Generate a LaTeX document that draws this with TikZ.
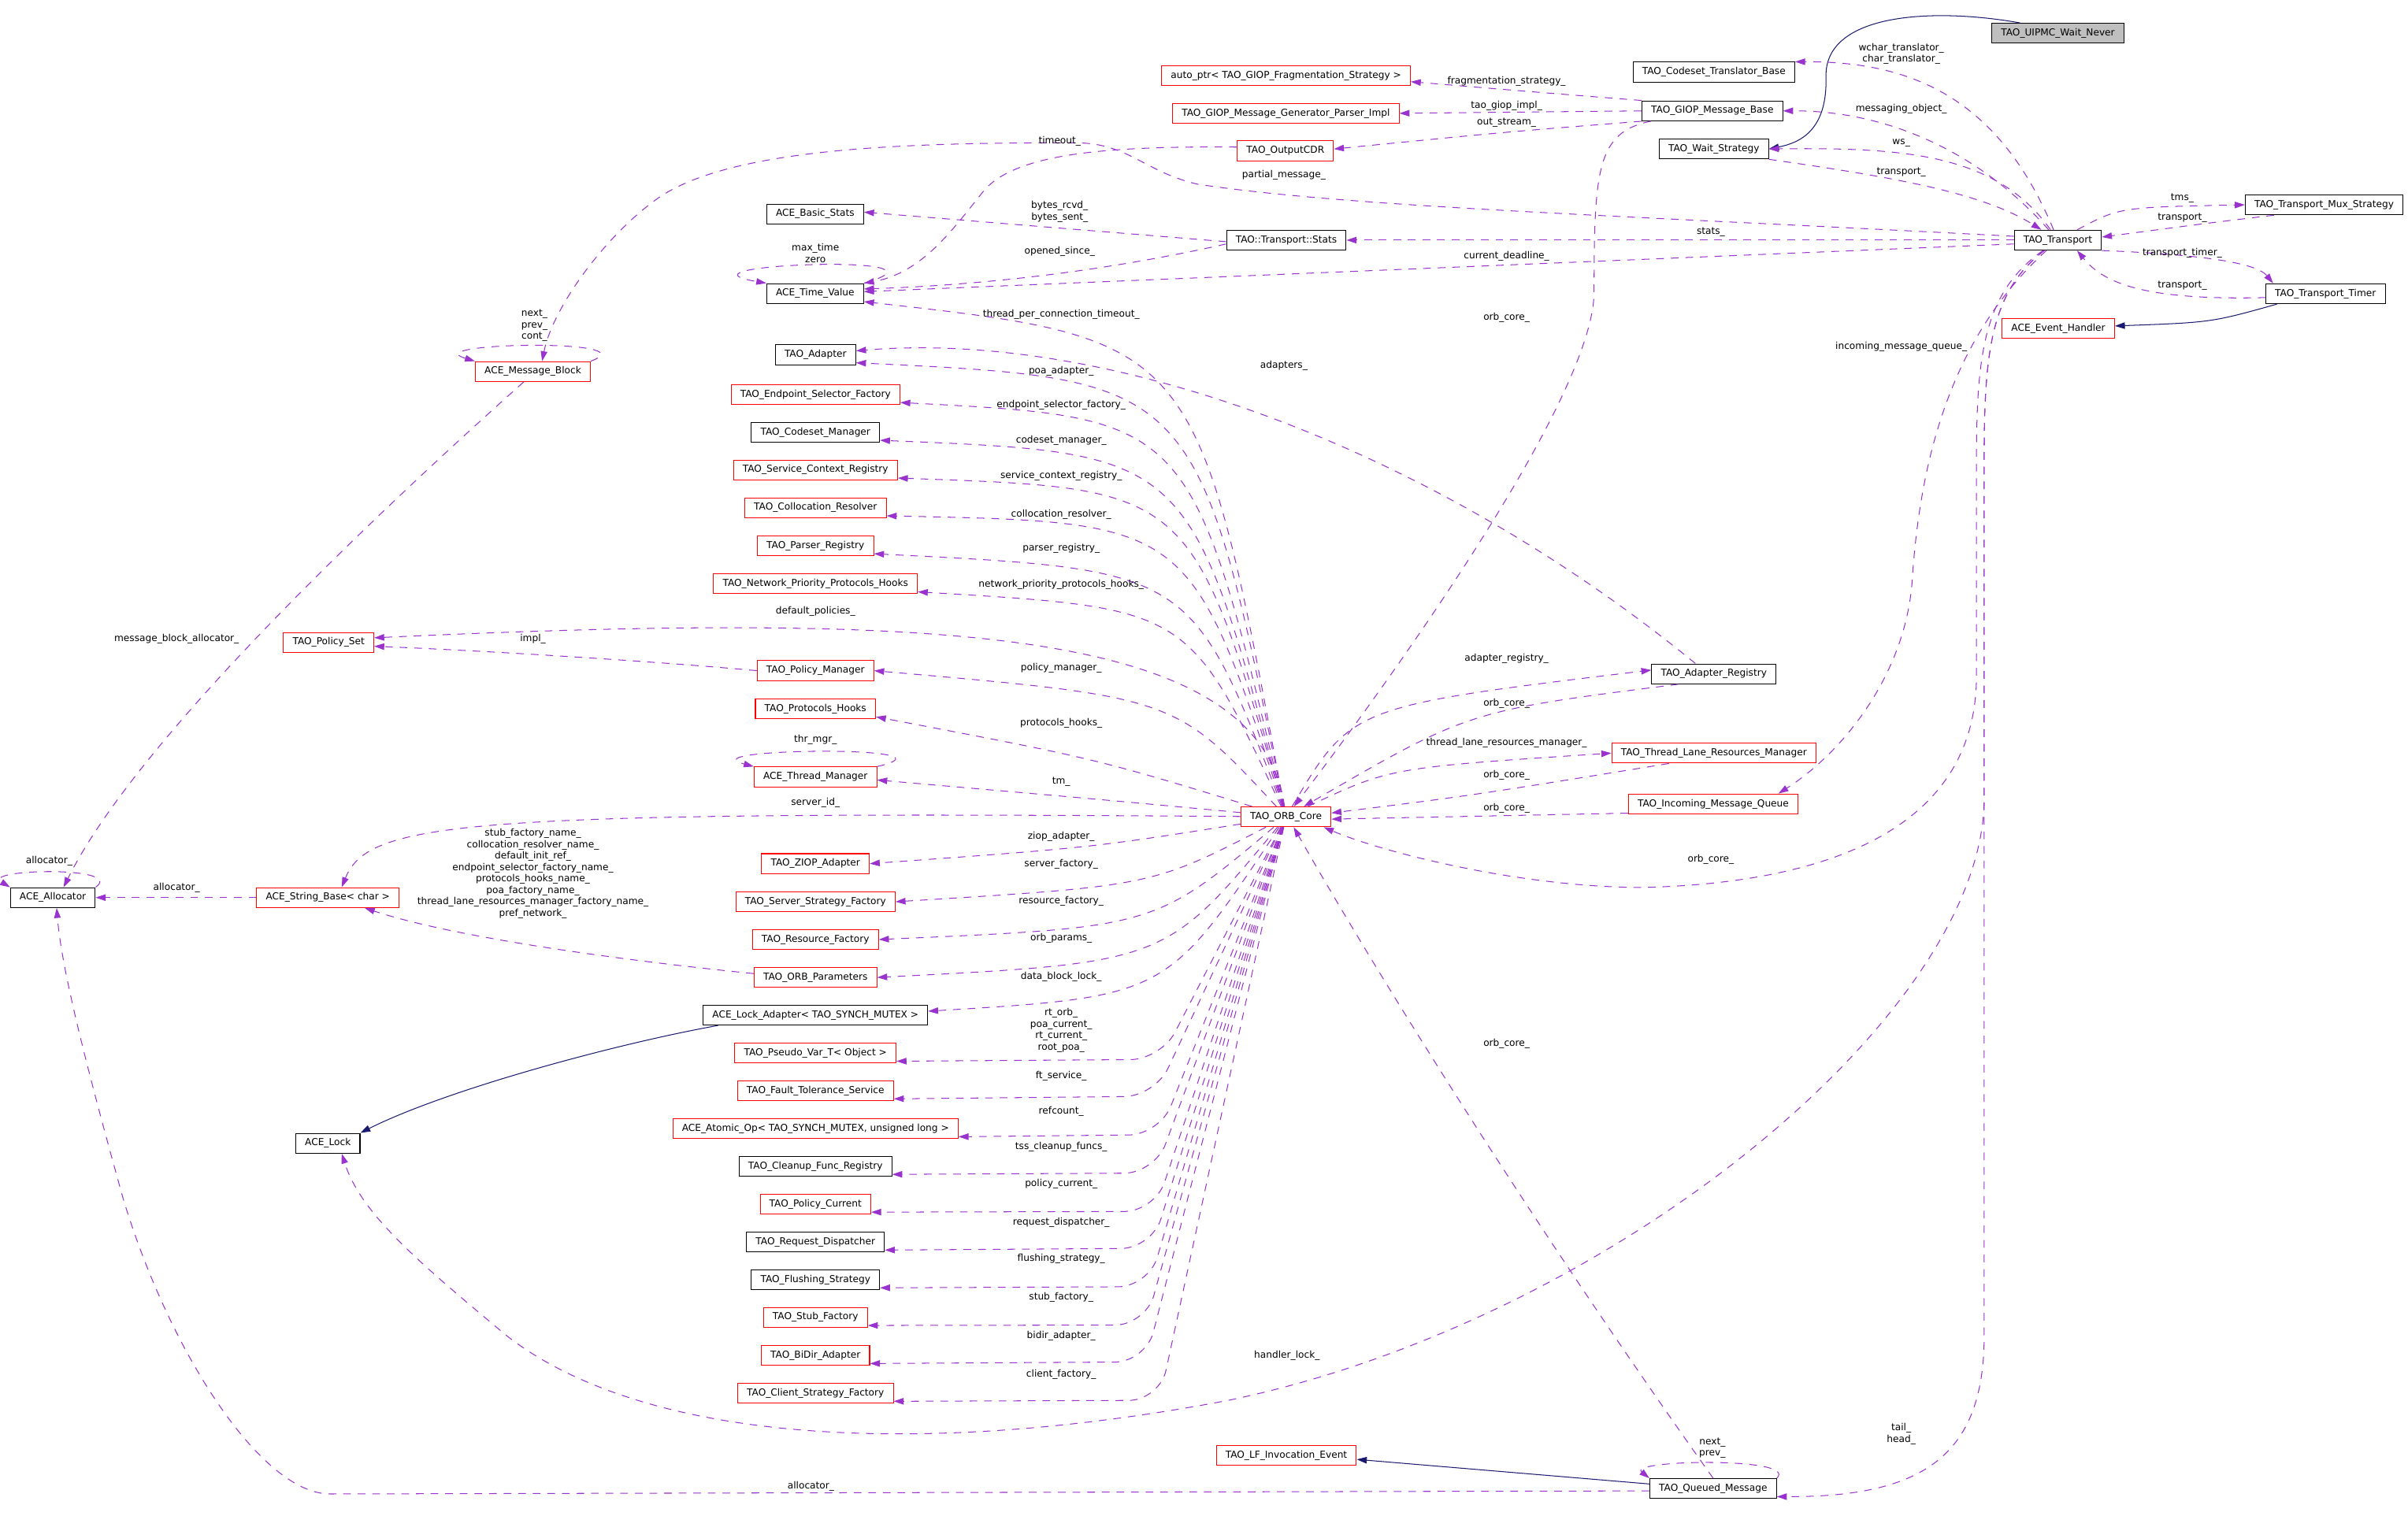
\documentclass[tikz,border=0pt]{standalone}
\usepackage{fontspec}
\setmainfont{DejaVu Sans}
\usetikzlibrary{arrows.meta}
\definecolor{memberpurple}{RGB}{154, 50, 205}
\definecolor{inheritblue}{RGB}{25, 25, 112}
\definecolor{partred}{RGB}{255, 0, 0}
\definecolor{rootgray}{RGB}{191, 191, 191}

\begin{document}
\begin{tikzpicture}[
    x=0.04cm, y=-0.04cm,
    cls/.style={draw=black, fill=white, line width=0.6pt, font=\fontsize{7.1}{8.5}\selectfont, inner xsep=0.24cm, inner ysep=0pt, minimum height=0.52cm},
    clsred/.style={cls, draw=partred},
    lbl/.style={text=black, font=\fontsize{7.1}{8.5}\selectfont, align=center, inner sep=0pt},
    member/.style={-{Triangle[length=0.26cm, width=0.17cm]}, memberpurple, line width=0.6pt, dash pattern=on 0.2cm off 0.18cm},
    inherit/.style={-{Triangle[length=0.26cm, width=0.17cm]}, inheritblue, line width=0.6pt}
]
\path[use as bounding box, fill=white] (0,0) rectangle (1568,987);

% Transport side
\node (uipmc) [cls, fill=rootgray] at (1340,21.7) {TAO\_UIPMC\_Wait\_Never};
\node (ctb) [cls] at (1116,47) {TAO\_Codeset\_Translator\_Base};
\node (frag) [clsred] at (837.4,49.2) {auto\_ptr< TAO\_GIOP\_Fragmentation\_Strategy >};
\node (gpi) [clsred] at (837.3,73.8) {TAO\_GIOP\_Message\_Generator\_Parser\_Impl};
\node (gmb) [cls] at (1115,72.2) {TAO\_GIOP\_Message\_Base};
\node (ocdr) [clsred] at (837,98.3) {TAO\_OutputCDR};
\node (wait) [cls] at (1116,97) {TAO\_Wait\_Strategy};
\node (mux) [cls] at (1513.4,133.4) {TAO\_Transport\_Mux\_Strategy};
\node (transport) [cls] at (1340,156.4) {TAO\_Transport};
\node (tstats) [cls] at (837.6,156.4) {TAO::Transport::Stats};
\node (bstats) [cls] at (530.8,139.4) {ACE\_Basic\_Stats};
\node (timeval) [cls] at (530.8,191.2) {ACE\_Time\_Value};
\node (timer) [cls] at (1514.3,191.3) {TAO\_Transport\_Timer};
\node (evh) [clsred] at (1340.3,213.8) {ACE\_Event\_Handler};
\node (mblock) [clsred] at (347,242) {ACE\_Message\_Block};

% ORB core members, upper column
\node (adapter) [cls] at (531,231) {TAO\_Adapter};
\node (esf) [clsred] at (531,256.9) {TAO\_Endpoint\_Selector\_Factory};
\node (csm) [cls] at (531,281.5) {TAO\_Codeset\_Manager};
\node (scr) [clsred] at (531,306.1) {TAO\_Service\_Context\_Registry};
\node (colres) [clsred] at (531,330.7) {TAO\_Collocation\_Resolver};
\node (parser) [clsred] at (531,355.4) {TAO\_Parser\_Registry};
\node (npph) [clsred] at (531,380.2) {TAO\_Network\_Priority\_Protocols\_Hooks};
\node (polset) [clsred] at (214,418.4) {TAO\_Policy\_Set};
\node (polmgr) [clsred] at (531,436.8) {TAO\_Policy\_Manager};
\node (phooks) [clsred] at (531,461.6) {TAO\_Protocols\_Hooks};
\node (thrmgr) [clsred] at (531,506) {ACE\_Thread\_Manager};

% ORB core and its neighbours
\node (core) [clsred] at (837.4,532) {TAO\_ORB\_Core};
\node (areg) [cls] at (1116,438.9) {TAO\_Adapter\_Registry};
\node (tlrm) [clsred] at (1116,490.5) {TAO\_Thread\_Lane\_Resources\_Manager};
\node (imq) [clsred] at (1115.6,523.6) {TAO\_Incoming\_Message\_Queue};
\node (alloc) [cls] at (34.4,584.6) {ACE\_Allocator};
\node (strbase) [clsred] at (213.5,584.6) {ACE\_String\_Base< char >};
\node (lock) [cls] at (213.5,744.6) {ACE\_Lock};

% ORB core members, lower column
\node (ziop) [clsred] at (531,562.5) {TAO\_ZIOP\_Adapter};
\node (ssf) [clsred] at (531,587.3) {TAO\_Server\_Strategy\_Factory};
\node (resf) [clsred] at (531,611.9) {TAO\_Resource\_Factory};
\node (params) [clsred] at (531,636.6) {TAO\_ORB\_Parameters};
\node (lockad) [cls] at (531,661.1) {ACE\_Lock\_Adapter< TAO\_SYNCH\_MUTEX >};
\node (pvar) [clsred] at (531,685.9) {TAO\_Pseudo\_Var\_T< Object >};
\node (fts) [clsred] at (531,710.4) {TAO\_Fault\_Tolerance\_Service};
\node (atomic) [clsred] at (531,735.1) {ACE\_Atomic\_Op< TAO\_SYNCH\_MUTEX, unsigned long >};
\node (cfr) [cls] at (531,759.6) {TAO\_Cleanup\_Func\_Registry};
\node (polcur) [clsred] at (531,784.2) {TAO\_Policy\_Current};
\node (rdisp) [cls] at (531,808.9) {TAO\_Request\_Dispatcher};
\node (flush) [cls] at (531,833.5) {TAO\_Flushing\_Strategy};
\node (stubf) [clsred] at (531,858) {TAO\_Stub\_Factory};
\node (bidir) [clsred] at (531,882.8) {TAO\_BiDir\_Adapter};
\node (csf) [clsred] at (531,907.4) {TAO\_Client\_Strategy\_Factory};

% Queued message
\node (lfev) [clsred] at (837.6,948) {TAO\_LF\_Invocation\_Event};
\node (qmsg) [cls] at (1115.5,969.5) {TAO\_Queued\_Message};

% Inheritance
\draw [inherit] ([xshift=0.75cm]uipmc.north west) .. controls (1260,5) and (1188,8) .. (1189,50) .. controls (1190,85) and (1172,93) .. (wait.east);
\draw [inherit] ([xshift=0.3cm]timer.south west) .. controls (1440,210) .. ([yshift=0.06cm]evh.east);
\draw [inherit] ([xshift=0.4cm]lockad.south west) .. controls (400,680) and (290,710) .. (lock.north east);
\draw [inherit] ([yshift=0.12cm]qmsg.west) -- ([yshift=-0.1cm]lfev.east);

% Transport members
\draw [member] (transport) .. controls (1300,60) and (1240,40) .. (ctb.north east) node [lbl] at (1238,35) {wchar\_translator\_\\char\_translator\_};
\draw [member] (transport) .. controls (1290,100) and (1230,72) .. (gmb.east) node [lbl] at (1238,71) {messaging\_object\_};
\draw [member] (transport) .. controls (1300,100) and (1240,96) .. (wait.east) node [lbl] at (1238,93) {ws\_};
\draw [member] (wait.south east) .. controls (1230,115) and (1290,125) .. (transport) node [lbl] at (1238,112) {transport\_};
\draw [member] (transport) .. controls (1380,135) .. (mux.west) node [lbl] at (1421,129) {tms\_};
\draw [member] ([xshift=0.76cm]mux.south west) .. controls (1440,145) .. ([yshift=0.08cm]transport.east) node [lbl] at (1421,142) {transport\_};
\draw [member] (transport.south east) .. controls (1440,166) and (1470,172) .. ([xshift=0.2cm]timer.north west) node [lbl] at (1421,165) {transport\_timer\_};
\draw [member] ([yshift=-0.1cm]timer.west) .. controls (1390,196) and (1368,182) .. ([xshift=0.5cm]transport.south) node [lbl] at (1421,186) {transport\_};
\draw [member] (transport.west) -- (tstats.east) node [lbl] at (1114,151) {stats\_};
\draw [member] ([yshift=-0.1cm]transport.west) -- ([yshift=0.05cm]timeval.east) node [lbl] at (981,167) {current\_deadline\_};
\draw [member] ([yshift=0.1cm]transport.west) .. controls (1050,140) and (880,135) .. (780,120) .. controls (745,112) and (735,93) .. (700,93) .. controls (600,93) and (480,95) .. (430,128) .. controls (395,152) and (360,200) .. ([xshift=0.24cm]mblock.north) node [lbl] at (836,114) {partial\_message\_};
\draw [member] (transport) .. controls (1270,220) and (1250,300) .. (1245,380) .. controls (1240,440) and (1200,490) .. ([xshift=-0.52cm]imq.north east) node [lbl] at (1238,226) {incoming\_message\_queue\_};
\draw [member] (transport) .. controls (1292,190) and (1287,230) .. (1287,300) -- (1287,440) .. controls (1287,540) and (1190,575) .. (1070,578) .. controls (990,578) and (900,555) .. ([xshift=-0.2cm]core.south east) node [lbl] at (1114,560) {orb\_core\_};
\draw [member] (transport) .. controls (1296,190) and (1292,230) .. (1292,300) -- (1292,870) .. controls (1292,950) and (1250,975) .. ([yshift=0.06cm]qmsg.south east) node [lbl] at (1238,934) {tail\_\\head\_};
\draw [member] (transport) .. controls (1296,190) and (1292,230) .. (1292,300) -- (1292,520) .. controls (1292,660) and (1050,860) .. (800,912) .. controls (600,950) and (420,940) .. (330,870) .. controls (270,820) and (235,790) .. ([xshift=0.36cm]lock.south) node [lbl] at (838,883) {handler\_lock\_};

% Stats, message and CDR members
\draw [member] ([yshift=-0.04cm]tstats.west) -- ([yshift=0.05cm]bstats.east) node [lbl] at (690,138) {bytes\_rcvd\_\\bytes\_sent\_};
\draw [member] ([yshift=-0.1cm]tstats.west) .. controls (740,172) and (660,185) .. ([yshift=0.12cm]timeval.east) node [lbl] at (690,164) {opened\_since\_};
\draw [member] (timeval.north east) .. controls +(70,-20) and +(-70,-12) .. (timeval.north west) node [lbl] at (531,165) {max\_time\\zero};
\draw [member] ([yshift=0.1cm]ocdr.west) .. controls (720,95) and (660,100) .. (640,125) .. controls (620,150) and (600,178) .. (timeval.north east) node [lbl] at (690,92) {timeout\_};
\draw [member] (gmb.north west) .. controls (1000,60) .. ([yshift=-0.16cm]frag.east) node [lbl] at (981,53) {fragmentation\_strategy\_};
\draw [member] (gmb.west) -- (gpi.east) node [lbl] at (981,69) {tao\_giop\_impl\_};
\draw [member] (gmb.south west) .. controls (980,86) .. ([yshift=0.05cm]ocdr.east) node [lbl] at (981,80) {out\_stream\_};
\draw [member] ([xshift=0.24cm]gmb.south west) .. controls (1040,86) and (1038,110) .. (1038,190) .. controls (1038,260) and (900,450) .. (core) node [lbl] at (981,207) {orb\_core\_};

% ORB core members, upper fan
\draw [member] (core) .. controls (780,221) .. ([yshift=0.06cm]timeval.south east) node [lbl] at (691,205) {thread\_per\_connection\_timeout\_};
\draw [member] (core) .. controls (780,247) .. ([yshift=0.06cm]adapter.south east) node [lbl] at (691,242) {poa\_adapter\_};
\draw [member] (core) .. controls (776,272) .. ([yshift=0.06cm]esf.south east) node [lbl] at (691,264) {endpoint\_selector\_factory\_};
\draw [member] (core) .. controls (775,295) .. ([yshift=0.06cm]csm.south east) node [lbl] at (691,287) {codeset\_manager\_};
\draw [member] (core) .. controls (776,318) .. ([yshift=0.06cm]scr.south east) node [lbl] at (691,310) {service\_context\_registry\_};
\draw [member] (core) .. controls (775,340) .. ([yshift=0.06cm]colres.south east) node [lbl] at (691,335) {collocation\_resolver\_};
\draw [member] (core) .. controls (776,371) .. ([yshift=0.06cm]parser.south east) node [lbl] at (691,357) {parser\_registry\_};
\draw [member] (core) .. controls (774,396) .. ([yshift=0.06cm]npph.south east) node [lbl] at (691,381) {network\_priority\_protocols\_hooks\_};
\draw [member] (core) .. controls (820,410) and (620,398) .. ([yshift=0.12cm]polset.east) node [lbl] at (531,398) {default\_policies\_};
\draw [member] (core) .. controls (765,454) .. (polmgr.east) node [lbl] at (691,435) {policy\_manager\_};
\draw [member] (core) .. controls (713,494) .. ([yshift=0.06cm]phooks.south east) node [lbl] at (691,471) {protocols\_hooks\_};
\draw [member] (core) .. controls (720,521) .. ([yshift=-0.08cm]thrmgr.east) node [lbl] at (691,509) {tm\_};
\draw [member] (core) .. controls (300,528) and (240,535) .. ([xshift=0.36cm]strbase.north) node [lbl] at (531,523) {server\_id\_};

% ORB core members, lower fan
\draw [member] (core) .. controls (711,552) .. (ziop.east) node [lbl] at (691,545) {ziop\_adapter\_};
\draw [member] (core) .. controls (750,577) .. (ssf.east) node [lbl] at (691,563) {server\_factory\_};
\draw [member] (core) .. controls (752,604) .. (resf.east) node [lbl] at (691,587) {resource\_factory\_};
\draw [member] (core) .. controls (759,627) .. (params.east) node [lbl] at (691,611) {orb\_params\_};
\draw [member] (core) .. controls (760,649) .. ([yshift=0.1cm]lockad.east) node [lbl] at (691,636) {data\_block\_lock\_};
\draw [member, rounded corners=0.8cm] (core) -- (756,690) -- ([yshift=0.06cm]pvar.south east) node [lbl] at (691,671) {rt\_orb\_\\poa\_current\_\\rt\_current\_\\root\_poa\_};
\draw [member, rounded corners=0.8cm] (core) -- (752,714) -- ([yshift=0.06cm]fts.south east) node [lbl] at (691,701) {ft\_service\_};
\draw [member, rounded corners=0.8cm] (core) -- (755,739) -- ([yshift=0.06cm]atomic.south east) node [lbl] at (691,724) {refcount\_};
\draw [member, rounded corners=0.8cm] (core) -- (752,764) -- ([yshift=0.06cm]cfr.south east) node [lbl] at (691,747) {tss\_cleanup\_funcs\_};
\draw [member, rounded corners=0.8cm] (core) -- (752,789) -- ([yshift=0.06cm]polcur.south east) node [lbl] at (691,771) {policy\_current\_};
\draw [member, rounded corners=0.8cm] (core) -- (750,813) -- ([yshift=0.06cm]rdisp.south east) node [lbl] at (691,796) {request\_dispatcher\_};
\draw [member, rounded corners=0.8cm] (core) -- (748,838) -- ([yshift=0.06cm]flush.south east) node [lbl] at (691,820) {flushing\_strategy\_};
\draw [member, rounded corners=0.8cm] (core) -- (746,863) -- ([yshift=0.06cm]stubf.south east) node [lbl] at (691,845) {stub\_factory\_};
\draw [member, rounded corners=0.8cm] (core) -- (746,887) -- ([yshift=0.06cm]bidir.south east) node [lbl] at (691,870) {bidir\_adapter\_};
\draw [member, rounded corners=0.8cm] (core) -- (755,912) -- ([yshift=0.06cm]csf.south east) node [lbl] at (691,895) {client\_factory\_};

% ORB core, right side
\draw [member] (core) .. controls (880,460) .. ([yshift=0.1cm]areg.west) node [lbl] at (981,429) {adapter\_registry\_};
\draw [member] ([xshift=0.7cm]areg.south west) .. controls (956,463) .. (core) node [lbl] at (981,458) {orb\_core\_};
\draw [member] (core) .. controls (905,500) .. (tlrm.west) node [lbl] at (981,484) {thread\_lane\_resources\_manager\_};
\draw [member] ([xshift=1.5cm]tlrm.south west) .. controls (959,518) .. ([yshift=0.1cm]core.east) node [lbl] at (981,505) {orb\_core\_};
\draw [member] ([yshift=-0.24cm]imq.west) -- ([yshift=-0.06cm]core.east) node [lbl] at (981,526.5) {orb\_core\_};
\draw [member] (qmsg.north) .. controls (1000,800) and (900,640) .. ([xshift=0.2cm]core.south) node [lbl] at (981,680) {orb\_core\_};
\draw [member] ([xshift=-0.48cm]areg.north) .. controls (930,290) and (720,215) .. ([yshift=0.1cm]adapter.east) node [lbl] at (836,238) {adapters\_};

% Left side
\draw [member] (polmgr.west) .. controls (430,431) and (320,424) .. ([yshift=-0.1cm]polset.east) node [lbl] at (347,416) {impl\_};
\draw [member] ([yshift=0.1cm]params.west) .. controls (420,627) and (300,612) .. ([xshift=0.96cm]strbase.south) node [lbl] at (347,569) {stub\_factory\_name\_\\collocation\_resolver\_name\_\\default\_init\_ref\_\\endpoint\_selector\_factory\_name\_\\protocols\_hooks\_name\_\\poa\_factory\_name\_\\thread\_lane\_resources\_manager\_factory\_name\_\\pref\_network\_};
\draw [member] (strbase.west) -- (alloc.east) node [lbl] at (115,578) {allocator\_};
\draw [member] (alloc.north east) .. controls +(20,-14) and +(-20,-12) .. (alloc.north west) node [lbl] at (32,561) {allocator\_};
\draw [member] ([xshift=-0.24cm]mblock.south) .. controls (250,330) and (90,480) .. ([xshift=0.28cm]alloc.north) node [lbl] at (115,416) {message\_block\_allocator\_};
\draw [member] (mblock.north east) .. controls +(40,-15) and +(-40,-12) .. (mblock.north west) node [lbl] at (348,212) {next\_\\prev\_\\cont\_};
\draw [member] (thrmgr.north east) .. controls +(60,-14) and +(-45,-12) .. (thrmgr.north west) node [lbl] at (531,482) {thr\_mgr\_};

% Queued message members
\draw [member] (qmsg.north east) .. controls +(15,-14) and +(-15,-12) .. (qmsg.north west) node [lbl] at (1115,943) {next\_\\prev\_};
\draw [member] ([yshift=-0.06cm]qmsg.west) -- (215,973) .. controls (170,973) and (110,880) .. (80,780) .. controls (55,690) and (40,630) .. ([xshift=0.1cm]alloc.south) node [lbl] at (528,968) {allocator\_};

\end{tikzpicture}
\end{document}
